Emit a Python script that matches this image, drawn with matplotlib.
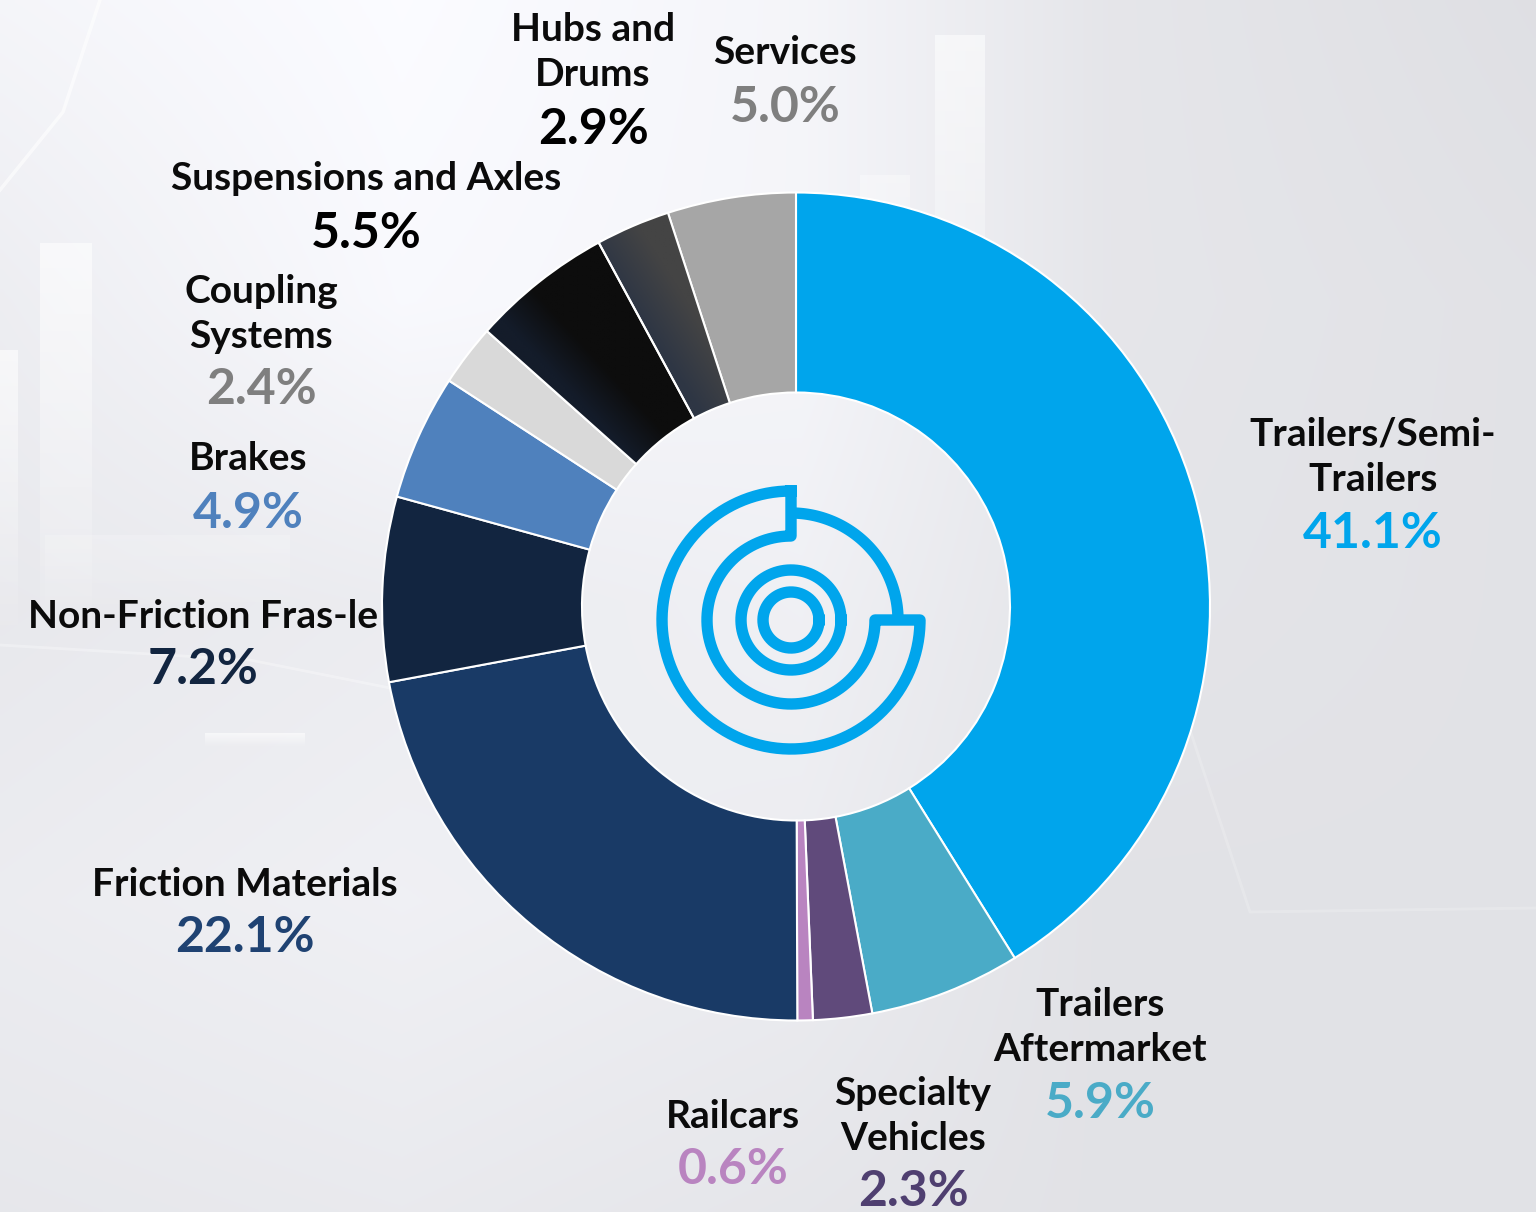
import numpy as np
import matplotlib
matplotlib.use('Agg')
import matplotlib.pyplot as plt

plt.rcParams['font.family'] = ['Lato', 'DejaVu Sans']

names = ['Trailers/Semi-\nTrailers', 'Trailers\nAftermarket', 'Specialty\nVehicles', 'Railcars',
         'Friction Materials', 'Non-Friction Fras-le', 'Brakes', 'Coupling\nSystems',
         'Suspensions and Axles', 'Hubs and\nDrums', 'Services']
values = [41.1, 5.9, 2.3, 0.6, 22.1, 7.2, 4.9, 2.4, 5.5, 2.9, 5.0]
colors = ['#00a5ec', '#4aabc7', '#604a7b', '#b984c0', '#193a66', '#122540', '#4f81bd',
          '#d9d9d9', '#0d0d0d', '#3b3b3b', '#a6a6a6']
pct_colors = ['#00a5ec', '#4aabc7', '#4f3f70', '#b984c0', '#1f4272', '#122540', '#4f81bd',
              '#7f7f7f', '#000000', '#000000', '#7f7f7f']
label_x = [1373, 1100, 913, 733, 245, 203, 248, 261, 366, 593, 785]
label_y = [455, 1025, 1114, 1115, 882, 614, 457, 312, 177, 50, 51]
pct_y = [531, 1101, 1190, 1168, 936, 668, 511, 388, 231, 127, 105]

W, H = 1536, 1212
fig = plt.figure(figsize=(W / 100, H / 100), dpi=100)

# background, brightness read at a few spots of the reference
bg = fig.add_axes([0, 0, 1, 1])
bg.set_xlim(0, W)
bg.set_ylim(H, 0)
bg.axis('off')
grid_x = [0, 400, 800, 1100, 1536]
grid_y = [0, 300, 600, 900, 1212]
grid = np.array([[.96, .985, .96, .90, .875],
                 [.93, .975, .96, .90, .885],
                 [.91, .925, .94, .895, .885],
                 [.925, .94, .925, .885, .885],
                 [.905, .915, .90, .885, .885]])
xs = np.arange(0, W, 4)
ys = np.arange(0, H, 4)
rows = np.array([np.interp(xs, grid_x, r) for r in grid])
shade = np.array([np.interp(ys, grid_y, rows[:, i]) for i in range(len(xs))]).T
img = np.dstack([shade, shade + 0.002, shade + 0.018]).clip(0, 1)
bg.imshow(img, extent=[0, W, H, 0], aspect='auto', zorder=0, interpolation='bilinear')


def fade_bar(x, y, w, h, a):
    g = np.ones((100, 2, 4))
    g[:, :, 3] = np.linspace(a, 0, 100)[:, None]
    bg.imshow(g, extent=[x, x + w, y + h, y], aspect='auto', zorder=1)


fade_bar(40, 243, 52, 420, 0.6)
fade_bar(0, 350, 18, 300, 0.6)
fade_bar(935, 35, 50, 400, 0.55)
fade_bar(860, 175, 50, 200, 0.35)
fade_bar(45, 535, 245, 90, 0.2)
fade_bar(205, 733, 100, 14, 0.6)
bg.plot([0, 63, 100], [190, 112, 0], color='white', lw=2.5, alpha=0.6, zorder=1)
bg.plot([0, 250, 400], [645, 660, 690], color='white', lw=2, alpha=0.3, zorder=1)
bg.plot([1190, 1250, 1536], [730, 912, 908], color='white', lw=2, alpha=0.2, zorder=1)
bg.set_xlim(0, W)
bg.set_ylim(H, 0)

# donut, y axis is flipped so angles run the other way
ax = fig.add_axes([0, 0, 1, 1])
ax.patch.set_alpha(0)
cx, cy, r = 796, 606.5, 414
wedges, _ = ax.pie(values, colors=colors, startangle=-90, counterclock=True, center=(cx, cy), radius=r,
                   wedgeprops=dict(width=r - 214, edgecolor='white', linewidth=1.5), frame=False)


def wedge_gradient(wedge, c1, c2, x0, y0, x1, y1, start, stop):
    # diagonal fill from c1 (lower left) to c2, clipped to the slice
    t = np.linspace(0, 1, 100)
    u = (t[None, :] + t[::-1][:, None]) / 2
    a = np.array(matplotlib.colors.to_rgb(c1))
    b = np.array(matplotlib.colors.to_rgb(c2))
    g = a[None, None, :] + (b - a)[None, None, :] * np.clip((u - start) / (stop - start), 0, 1)[:, :, None]
    im = ax.imshow(g, extent=[x0, x1, y0, y1], aspect='auto', zorder=wedge.get_zorder() + 0.1)
    im.set_clip_path(wedge)
    ax.add_patch(matplotlib.patches.Wedge(wedge.center, wedge.r, wedge.theta1, wedge.theta2, width=wedge.width,
                                          fill=False, edgecolor='white', lw=1.5,
                                          zorder=wedge.get_zorder() + 0.2))


wedge_gradient(wedges[8], '#141c2a', '#0d0d0d', 487, 465, 695, 240, 0.36, 0.5)
wedge_gradient(wedges[9], '#2e3644', '#444444', 598, 418, 730, 212, 0.4, 0.62)

# brake disc icon in the hole
ic_x, ic_y = 791, 620
blue = '#00a5ec'
for rad in [28, 50]:
    th = np.linspace(0, 2 * np.pi, 200)
    ax.plot(ic_x + rad * np.cos(th), ic_y - rad * np.sin(th), color=blue, lw=8.2, zorder=5)
th = np.radians(np.linspace(90, 360, 200))
px = np.r_[ic_x + 129 * np.cos(th), ic_x + 84 * np.cos(th[::-1]), ic_x + 129 * np.cos(th[0])]
py = np.r_[ic_y - 129 * np.sin(th), ic_y - 84 * np.sin(th[::-1]), ic_y - 129 * np.sin(th[0])]
ax.plot(px, py, color=blue, lw=8.2, solid_joinstyle='round', zorder=5)
th = np.radians(np.linspace(0, 90, 100))
ax.plot(ic_x + 107 * np.cos(th), ic_y - 107 * np.sin(th), color=blue, lw=8.2, solid_capstyle='butt', zorder=5)

ax.set_xlim(0, W)
ax.set_ylim(H, 0)
ax.set_aspect('auto')

for n, v, c, x, y, py_ in zip(names, values, pct_colors, label_x, label_y, pct_y):
    ax.text(x, y + 2, n, ha='center', va='center', fontsize=28, fontweight='bold', color='#0b0b0b', linespacing=1.36)
    ax.text(x, py_ + 2, f'{v:.1f}%', ha='center', va='center', fontsize=36, fontweight='bold', color=c)

fig.savefig('out.png', dpi=100)
